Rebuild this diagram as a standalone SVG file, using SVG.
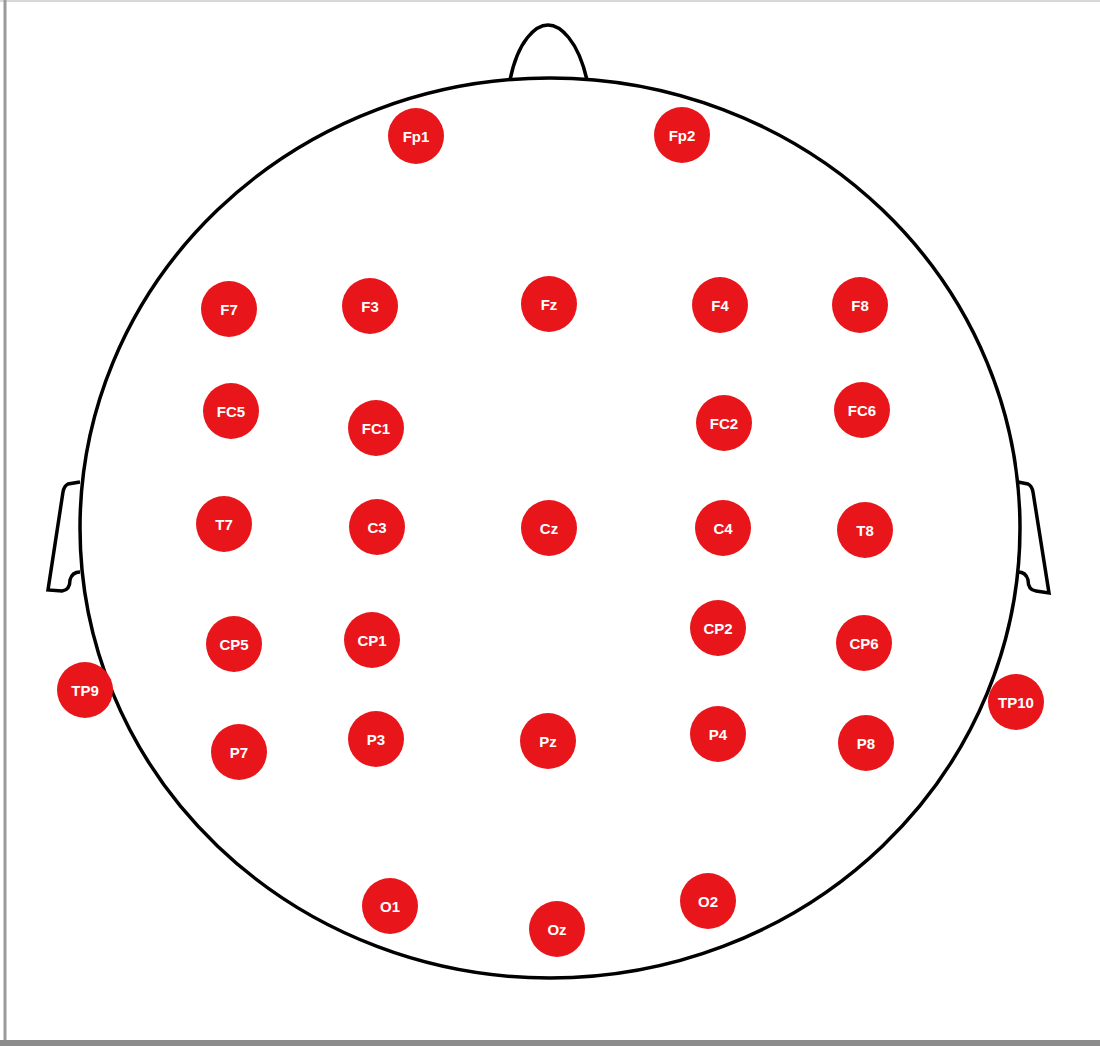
<svg xmlns="http://www.w3.org/2000/svg" width="1100" height="1046" viewBox="0 0 1100 1046">
<style>
.e circle{fill:#e8161b}
.e text{fill:#fff;font-family:"Liberation Sans",Arial,sans-serif;font-weight:bold;font-size:15px;text-anchor:middle;dominant-baseline:central}
.h{fill:none;stroke:#000;stroke-width:3.5}
</style>
<rect x="0" y="0" width="1100" height="1046" fill="#fff"/>
<line x1="0" y1="1" x2="1100" y2="1" stroke="#d8d8d8" stroke-width="2"/>
<line x1="5" y1="0" x2="5" y2="1040" stroke="#9a9a9a" stroke-width="3"/>
<rect x="0" y="1040" width="1100" height="6" fill="#8c8c8c"/>
<g id="head">
<path class="h" d="M510,80 C518,40 536,25 548,25 C560,25 578,40 587,80"/>
<ellipse class="h" cx="550" cy="528" rx="470" ry="450"/>
<path class="h" d="M80,482 L68,484 Q64,486 63,492 L48,590 L62,591 Q70,590 70,580 Q72,572 80,572"/>
<path class="h" d="M1018,482 L1028,484 Q1032,486 1033,492 L1049,593 L1036,591 Q1028,590 1028,580 Q1026,572 1018,572"/>
</g>
<g id="electrodes">
<g id="Fp1" class="e"><circle cx="416" cy="136" r="28"/><text x="416" y="136">Fp1</text></g>
<g id="Fp2" class="e"><circle cx="682" cy="135" r="28"/><text x="682" y="135">Fp2</text></g>
<g id="F7" class="e"><circle cx="229" cy="309" r="28"/><text x="229" y="309">F7</text></g>
<g id="F3" class="e"><circle cx="370" cy="306" r="28"/><text x="370" y="306">F3</text></g>
<g id="Fz" class="e"><circle cx="549" cy="304" r="28"/><text x="549" y="304">Fz</text></g>
<g id="F4" class="e"><circle cx="720" cy="305" r="28"/><text x="720" y="305">F4</text></g>
<g id="F8" class="e"><circle cx="860" cy="305" r="28"/><text x="860" y="305">F8</text></g>
<g id="FC5" class="e"><circle cx="231" cy="411" r="28"/><text x="231" y="411">FC5</text></g>
<g id="FC1" class="e"><circle cx="376" cy="428" r="28"/><text x="376" y="428">FC1</text></g>
<g id="FC2" class="e"><circle cx="724" cy="423" r="28"/><text x="724" y="423">FC2</text></g>
<g id="FC6" class="e"><circle cx="862" cy="410" r="28"/><text x="862" y="410">FC6</text></g>
<g id="T7" class="e"><circle cx="224" cy="524" r="28"/><text x="224" y="524">T7</text></g>
<g id="C3" class="e"><circle cx="377" cy="527" r="28"/><text x="377" y="527">C3</text></g>
<g id="Cz" class="e"><circle cx="549" cy="528" r="28"/><text x="549" y="528">Cz</text></g>
<g id="C4" class="e"><circle cx="723" cy="528" r="28"/><text x="723" y="528">C4</text></g>
<g id="T8" class="e"><circle cx="865" cy="530" r="28"/><text x="865" y="530">T8</text></g>
<g id="CP5" class="e"><circle cx="234" cy="644" r="28"/><text x="234" y="644">CP5</text></g>
<g id="CP1" class="e"><circle cx="372" cy="640" r="28"/><text x="372" y="640">CP1</text></g>
<g id="CP2" class="e"><circle cx="718" cy="628" r="28"/><text x="718" y="628">CP2</text></g>
<g id="CP6" class="e"><circle cx="864" cy="643" r="28"/><text x="864" y="643">CP6</text></g>
<g id="TP9" class="e"><circle cx="85" cy="690" r="28"/><text x="85" y="690">TP9</text></g>
<g id="TP10" class="e"><circle cx="1016" cy="702" r="28"/><text x="1016" y="702">TP10</text></g>
<g id="P7" class="e"><circle cx="239" cy="752" r="28"/><text x="239" y="752">P7</text></g>
<g id="P3" class="e"><circle cx="376" cy="739" r="28"/><text x="376" y="739">P3</text></g>
<g id="Pz" class="e"><circle cx="548" cy="741" r="28"/><text x="548" y="741">Pz</text></g>
<g id="P4" class="e"><circle cx="718" cy="734" r="28"/><text x="718" y="734">P4</text></g>
<g id="P8" class="e"><circle cx="866" cy="743" r="28"/><text x="866" y="743">P8</text></g>
<g id="O1" class="e"><circle cx="390" cy="906" r="28"/><text x="390" y="906">O1</text></g>
<g id="Oz" class="e"><circle cx="557" cy="929" r="28"/><text x="557" y="929">Oz</text></g>
<g id="O2" class="e"><circle cx="708" cy="901" r="28"/><text x="708" y="901">O2</text></g>
</g>
<g id="connectors"/>
</svg>
